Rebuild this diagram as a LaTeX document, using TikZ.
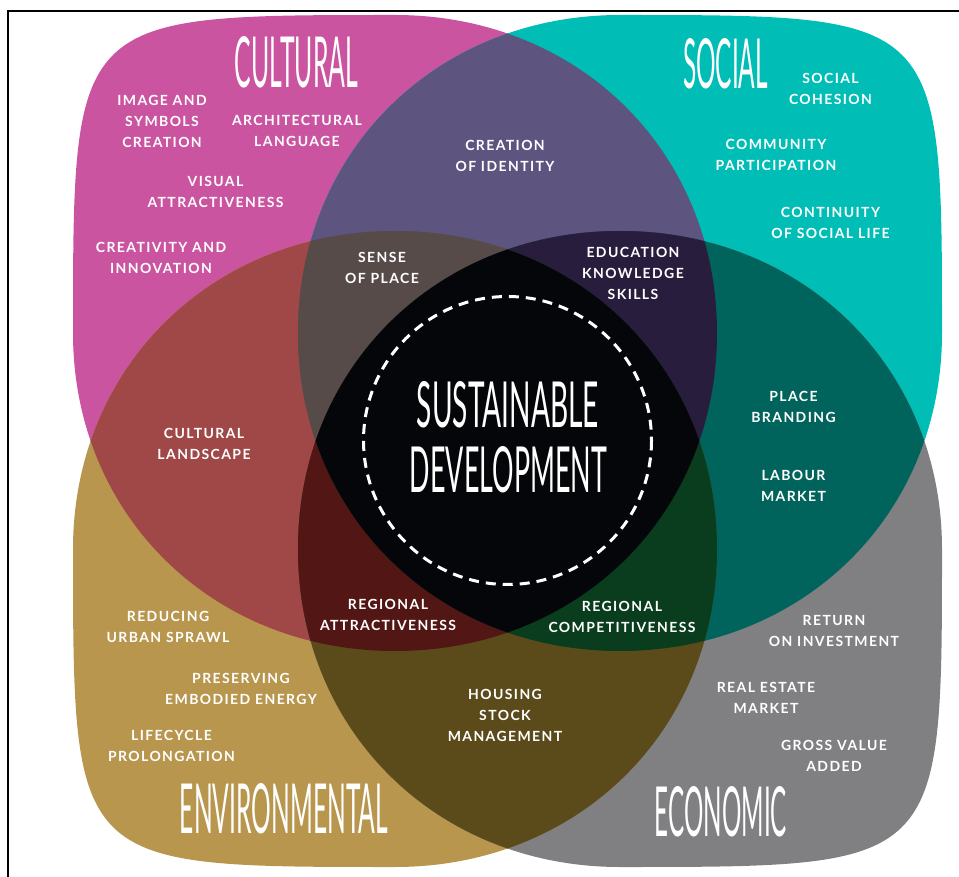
\documentclass[tikz,border=0pt]{standalone}
\usepackage{fontspec}
\usepackage{graphicx}
\newfontfamily\labelfont[LetterSpace=10]{Lato}
\newfontfamily\titlefont{Lato}
\definecolor{cultcol}{HTML}{CA54A0}
\definecolor{socicol}{HTML}{00BDB6}
\definecolor{envicol}{HTML}{B8964E}
\definecolor{econcol}{HTML}{808082}
\definecolor{cultsoci}{HTML}{5E5480}
\definecolor{cultenvi}{HTML}{A04848}
\definecolor{cultecon}{HTML}{3A2038}
\definecolor{socienvi}{HTML}{30604A}
\definecolor{socieco}{HTML}{00645C}
\definecolor{envieco}{HTML}{5B4A1A}
\definecolor{placecol}{HTML}{574B4A}
\definecolor{educol}{HTML}{291D3E}
\definecolor{attrcol}{HTML}{521614}
\definecolor{compcol}{HTML}{0A3C1E}
\definecolor{corecol}{HTML}{04060A}
\newcommand{\blob}[6]{({#1+322},#2) .. controls ({#1+322},{#2+#5*318}) and ({#1+#5*322},{#2+318}) .. (#1,{#2+318})
  .. controls ({#1-#6*322},{#2+318}) and ({#1-322},{#2+#6*318}) .. ({#1-322},#2)
  .. controls ({#1-322},{#2-#3*318}) and ({#1-#3*322},{#2-318}) .. (#1,{#2-318})
  .. controls ({#1+#4*322},{#2-318}) and ({#1+322},{#2-#4*318}) .. ({#1+322},#2) -- cycle}
\newcommand{\cultblob}{\blob{395}{333}{1}{0.57}{0.57}{0.57}}
\newcommand{\sociblob}{\blob{620}{333}{0.57}{1}{0.57}{0.57}}
\newcommand{\enviblob}{\blob{395}{549}{0.57}{0.57}{0.57}{1}}
\newcommand{\econblob}{\blob{620}{549}{0.57}{0.57}{1}{0.57}}
\newcommand{\bigword}[3]{\resizebox{#1pt}{#2pt}{\titlefont #3}}
\tikzset{
  item/.style={text=white, align=center, inner sep=0pt, font=\labelfont\bfseries\fontsize{14}{21}\selectfont},
  heading/.style={text=white, inner sep=0pt}
}
\begin{document}
\begin{tikzpicture}[x=1pt, y=-1pt]
	\useasboundingbox (0,0) rectangle (959,877);
	\draw[line width=2pt] (8,877) -- (8,11) -- (959,11);
	\fill[cultcol] \cultblob;
	\fill[socicol] \sociblob;
	\fill[envicol] \enviblob;
	\fill[econcol] \econblob;
	\begin{scope}
		\clip \cultblob;
		\fill[cultsoci] \sociblob;
		\fill[cultenvi] \enviblob;
		\fill[cultecon] \econblob;
	\end{scope}
	\begin{scope}
		\clip \sociblob;
		\fill[socienvi] \enviblob;
		\fill[socieco] \econblob;
	\end{scope}
	\begin{scope}
		\clip \enviblob;
		\fill[envieco] \econblob;
	\end{scope}
	\begin{scope}
		\clip \cultblob;
		\clip \sociblob;
		\fill[placecol] \enviblob;
		\fill[educol] \econblob;
	\end{scope}
	\begin{scope}
		\clip \enviblob;
		\clip \econblob;
		\fill[attrcol] \cultblob;
		\fill[compcol] \sociblob;
	\end{scope}
	\begin{scope}
		\clip \cultblob;
		\clip \sociblob;
		\clip \enviblob;
		\fill[corecol] \econblob;
	\end{scope}
	\coordinate (core) at (507.5,440.5);
	\draw[white, line width=3pt, dash pattern=on 10pt off 7pt] (core) circle (144);
	\node[heading] (cultural) at (296.5,62.5) {\bigword{123}{51}{CULTURAL}};
	\node[heading] (social) at (725.5,64) {\bigword{85}{50}{SOCIAL}};
	\node[heading] (environmental) at (284,809) {\bigword{208}{50}{ENVIRONMENTAL}};
	\node[heading] (economic) at (721,812) {\bigword{132}{50}{ECONOMIC}};
	\node[heading] (sustainable) at (508,405) {\bigword{182}{46}{SUSTAINABLE}};
	\node[heading] (development) at (508.5,470) {\bigword{197}{46}{DEVELOPMENT}};
	\node[item] (imagesym) at (162,121.5) {IMAGE AND\\SYMBOLS\\CREATION};
	\node[item] (archlang) at (297,130.5) {ARCHITECTURAL\\LANGUAGE};
	\node[item] (visual) at (215.5,191.5) {VISUAL\\ATTRACTIVENESS};
	\node[item] (creativity) at (161,257.5) {CREATIVITY AND\\INNOVATION};
	\node[item] (landscape) at (204,443.5) {CULTURAL\\LANDSCAPE};
	\node[item] (senseplace) at (382,267.5) {SENSE\\OF PLACE};
	\node[item] (identity) at (505,155.5) {CREATION\\OF IDENTITY};
	\node[item] (cohesion) at (830.5,89) {SOCIAL\\COHESION};
	\node[item] (participation) at (776,154.5) {COMMUNITY\\PARTICIPATION};
	\node[item] (continuity) at (830.5,223) {CONTINUITY\\OF SOCIAL LIFE};
	\node[item] (education) at (633,273.5) {EDUCATION\\KNOWLEDGE\\SKILLS};
	\node[item] (branding) at (793.5,406.5) {PLACE\\BRANDING};
	\node[item] (labour) at (793.5,486) {LABOUR\\MARKET};
	\node[item] (competitive) at (622,617) {REGIONAL\\COMPETITIVENESS};
	\node[item] (attractive) at (388,614.5) {REGIONAL\\ATTRACTIVENESS};
	\node[item] (investment) at (834,631) {RETURN\\ON INVESTMENT};
	\node[item] (realestate) at (766,698) {REAL ESTATE\\MARKET};
	\node[item] (grossvalue) at (834,756) {GROSS VALUE\\ADDED};
	\node[item] (housing) at (505,715) {HOUSING\\STOCK\\MANAGEMENT};
	\node[item] (sprawl) at (168,626.5) {REDUCING\\URBAN SPRAWL};
	\node[item] (energy) at (241,688.5) {PRESERVING\\EMBODIED ENERGY};
	\node[item] (lifecycle) at (171.5,746) {LIFECYCLE\\PROLONGATION};
\end{tikzpicture}
\end{document}
